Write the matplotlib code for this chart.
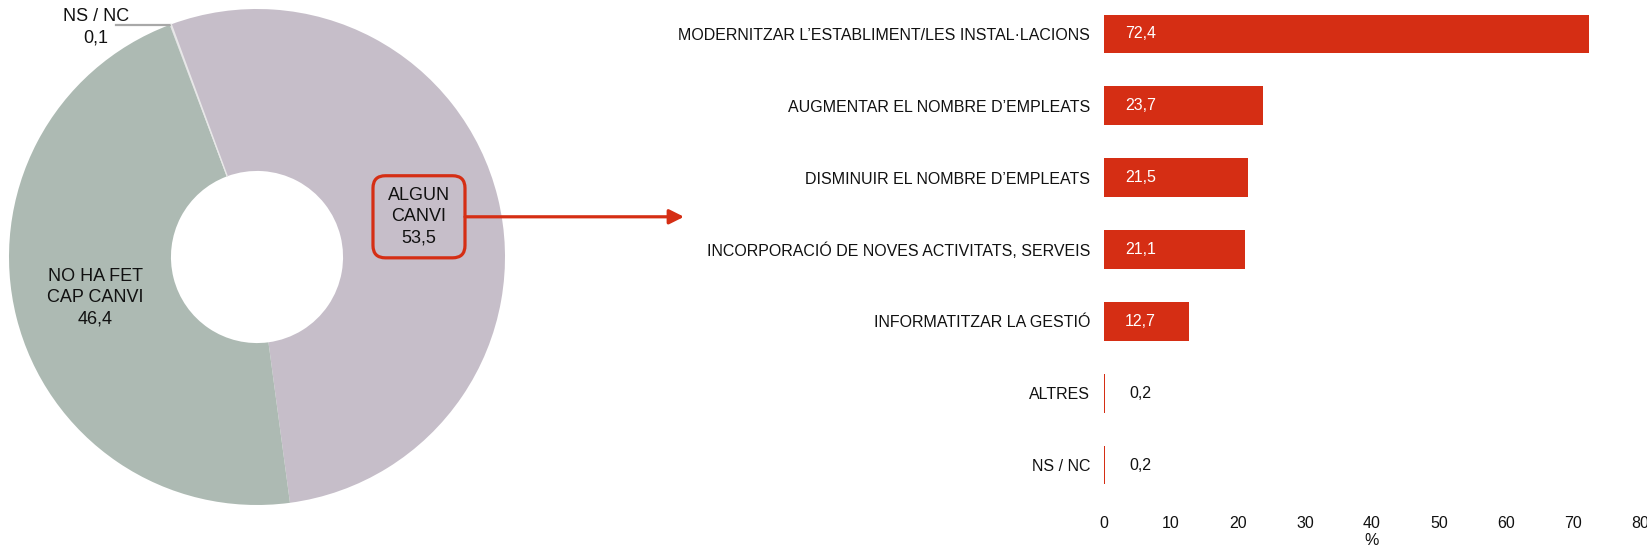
import numpy as np
import matplotlib
matplotlib.use("Agg")
import matplotlib.pyplot as plt
from matplotlib.patches import FancyBboxPatch

plt.rcParams["font.family"] = ["Liberation Sans", "DejaVu Sans"]

# donut data
pie_labels = ["NS / NC", "ALGUN\nCANVI", "NO HA FET\nCAP CANVI"]
pie_values = [0.1, 53.5, 46.4]
pie_colors = ["#E4E2E6", "#C6BEC9", "#ADBAB3"]

# bar data
bar_labels = [
    "MODERNITZAR L\u2019ESTABLIMENT/LES INSTAL\u00b7LACIONS",
    "AUGMENTAR EL NOMBRE D\u2019EMPLEATS",
    "DISMINUIR EL NOMBRE D\u2019EMPLEATS",
    "INCORPORACI\u00d3 DE NOVES ACTIVITATS, SERVEIS",
    "INFORMATITZAR LA GESTI\u00d3",
    "ALTRES",
    "NS / NC",
]
bar_values = [72.4, 23.7, 21.5, 21.1, 12.7, 0.2, 0.2]

red = "#D52E14"
txt = "#111111"

W, H = 1647, 551
fig = plt.figure(figsize=(W / 100, H / 100), dpi=100)


def fmt(v):
    return f"{v:.1f}".replace(".", ",")


# ---- donut ----
ax1 = fig.add_axes([9 / W, 46 / H, 496 / W, 496 / H])
wedges, _ = ax1.pie(pie_values, colors=pie_colors, startangle=110.6,
                    counterclock=False, radius=1,
                    wedgeprops=dict(width=0.653, linewidth=0))
ax1.set_xlim(-1, 1)
ax1.set_ylim(-1, 1)
ax1.set_aspect("equal")
ax1.axis("off")

# thin light separator at the top boundary
t = np.deg2rad(wedges[1].theta2)
ax1.plot([0.347 * np.cos(t), np.cos(t)], [0.347 * np.sin(t), np.sin(t)],
         color="#E8E8E8", lw=1)

label_pos = {}
for i in (1, 2):
    w = wedges[i]
    mid = np.deg2rad((w.theta1 + w.theta2) / 2)
    x, y = 0.673 * np.cos(mid), 0.673 * np.sin(mid)
    label_pos[i] = (x, y)
    ax1.text(x, y, pie_labels[i] + "\n" + fmt(pie_values[i]), ha="center",
             va="center", fontsize=13, color=txt, linespacing=1.35)

# NS / NC callout
w0 = wedges[0]
a0 = np.deg2rad((w0.theta1 + w0.theta2) / 2)
px, py = np.cos(a0), np.sin(a0)
ax1.plot([px - 0.22, px], [py, py], color="#A8A8A8", lw=1.6, zorder=1)
ax1.text(px - 0.30, py - 0.01, pie_labels[0] + "\n" + fmt(pie_values[0]),
         ha="center", va="center", fontsize=13, color=txt, linespacing=1.3,
         zorder=3)

# highlight box + arrow
bx, by = label_pos[1]
bw, bh = 0.371, 0.331
box = FancyBboxPatch((bx - bw / 2, by - bh / 2), bw, bh,
                     boxstyle="round,pad=0,rounding_size=0.05",
                     fc="none", ec=red, lw=2.3, zorder=4)
ax1.add_patch(box)
ax1.annotate("", xy=((684 - 257) / 248, by), xytext=(bx + bw / 2, by),
             arrowprops=dict(arrowstyle="-|>", color=red, lw=2.3,
                             mutation_scale=22, shrinkA=0, shrinkB=0),
             annotation_clip=False)

# ---- bars ----
ax2 = fig.add_axes([1104 / W, 50 / H, 536 / W, 503 / H])
y = np.arange(len(bar_values))
ax2.barh(y, bar_values, height=0.54, color=red)
ax2.set_ylim(len(bar_values) - 0.5, -0.5)
ax2.set_xlim(0, 80)
ax2.set_xticks(range(0, 81, 10))
ax2.set_yticks(y)
ax2.set_yticklabels(bar_labels)
ax2.tick_params(axis="y", length=0, pad=10, labelsize=11.5, labelcolor=txt)
ax2.tick_params(axis="x", length=0, pad=11, labelsize=11.5, labelcolor=txt)
ax2.set_xlabel("%", fontsize=11.5, color=txt, labelpad=1)
for s in ax2.spines.values():
    s.set_visible(False)

for i, v in enumerate(bar_values):
    ax2.annotate(fmt(v), (0, i), xytext=(15 if v > 5 else 18, 0),
                 textcoords="offset points", ha="left", va="center",
                 fontsize=11.5, color="white" if v > 5 else txt)

fig.savefig("out.png", dpi=100)
